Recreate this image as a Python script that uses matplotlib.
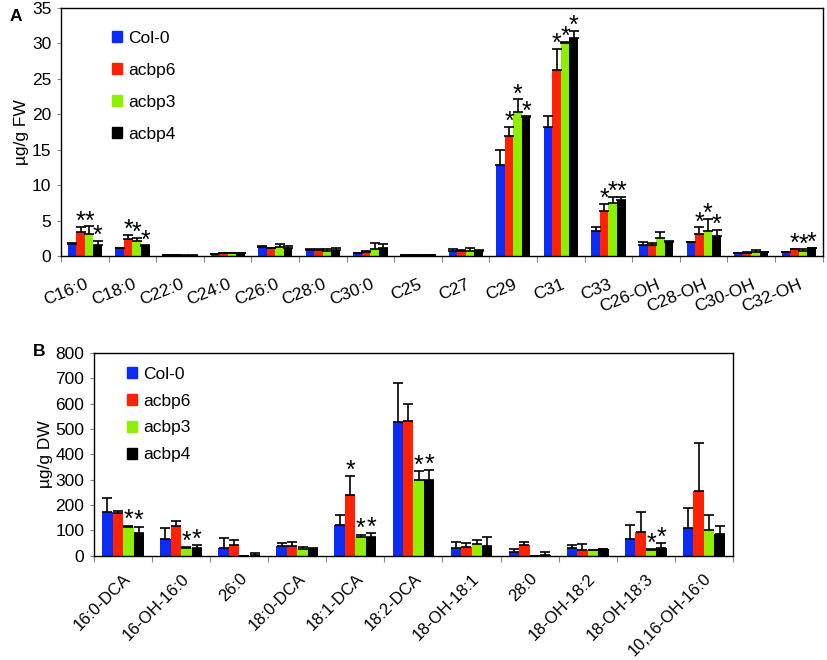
import numpy as np
import matplotlib
matplotlib.use('Agg')
import matplotlib.pyplot as plt
from matplotlib.patches import Patch

plt.rcParams['font.family'] = ['Liberation Sans', 'DejaVu Sans']

series = ['Col-0', 'acbp6', 'acbp3', 'acbp4']
colors = ['#0a2cf5', '#ff2200', '#8cf000', '#000000']

# panel A: cuticular wax
cats_a = ['C16:0', 'C18:0', 'C22:0', 'C24:0', 'C26:0', 'C28:0', 'C30:0', 'C25',
          'C27', 'C29', 'C31', 'C33', 'C26-OH', 'C28-OH', 'C30-OH', 'C32-OH']
col0_a = [1.74, 1.08, 0.1, 0.28, 1.35, 0.85, 0.42, 0.1, 0.66, 12.9, 18.25, 3.53, 1.5, 2.0, 0.38, 0.52]
acbp6_a = [3.43, 2.4, 0.1, 0.38, 1.15, 0.8, 0.56, 0.12, 0.7, 17.0, 26.25, 6.4, 1.5, 3.1, 0.5, 1.0]
acbp3_a = [3.15, 2.1, 0.08, 0.4, 1.3, 0.75, 1.05, 0.1, 0.66, 20.3, 30.1, 7.43, 2.5, 3.5, 0.6, 0.7]
acbp4_a = [1.55, 1.4, 0.08, 0.38, 1.2, 0.9, 1.15, 0.1, 0.75, 19.6, 30.8, 7.85, 1.93, 2.87, 0.56, 1.18]
col0_a_err = [0.1, 0.05, 0.02, 0.05, 0.1, 0.1, 0.08, 0.02, 0.34, 2.0, 1.45, 0.6, 0.5, 0.05, 0.07, 0.03]
acbp6_a_err = [0.67, 0.55, 0.02, 0.05, 0.05, 0.25, 0.09, 0.02, 0.1, 1.2, 2.95, 1.0, 0.4, 0.95, 0.1, 0.05]
acbp3_a_err = [1.05, 0.5, 0.02, 0.05, 0.45, 0.25, 0.85, 0.02, 0.44, 1.8, 0.1, 0.97, 0.9, 1.7, 0.25, 0.25]
acbp4_a_err = [0.55, 0.1, 0.02, 0.05, 0.2, 0.3, 0.6, 0.02, 0.05, 0.1, 1.0, 0.45, 0.22, 0.83, 0.04, 0.02]
stars_a = {0: [1, 2, 3], 1: [1, 2, 3], 9: [1, 2, 3], 10: [1, 2, 3], 11: [1, 2, 3],
           13: [1, 2, 3], 15: [1, 2, 3]}

# panel B: cutin monomers
cats_b = ['16:0-DCA', '16-OH-16:0', '26:0', '18:0-DCA', '18:1-DCA', '18:2-DCA',
          '18-OH-18:1', '28:0', '18-OH-18:2', '18-OH-18:3', '10,16-OH-16:0']
col0_b = [171, 67, 30, 39, 121, 527, 30, 14, 32, 67, 108]
acbp6_b = [167, 116, 43, 37, 239, 532, 33, 42, 24, 93, 255]
acbp3_b = [113, 29, 0, 28, 72, 298, 46, 0, 22, 22, 101]
acbp4_b = [88, 32, 2, 26, 75, 300, 38, 3, 25, 29, 87]
col0_b_err = [58, 41, 38, 12, 39, 153, 25, 12, 11, 54, 81]
acbp6_b_err = [8, 21, 19, 18, 74, 68, 17, 14, 23, 80, 189]
acbp3_b_err = [5, 4, 0, 5, 11, 36, 16, 0, 1, 4, 58]
acbp4_b_err = [26, 10, 7, 3, 14, 38, 36, 11, 1, 20, 31]
stars_b = {0: [2, 3], 1: [2, 3], 4: [1, 2, 3], 5: [2, 3], 9: [2, 3]}


def draw_panel(ax, cats, vals, errs, stars, ymax, ystep, star_pad):
    x = np.arange(len(cats))
    w = 0.18
    offs = (np.arange(4) - 1.5) * w
    for i in range(4):
        ax.bar(x + offs[i], vals[i], w, color=colors[i], linewidth=0, zorder=2)
        ax.errorbar(x + offs[i], vals[i], yerr=[np.zeros(len(cats)), errs[i]],
                    fmt='none', ecolor='black', elinewidth=1.2, capsize=3.5,
                    capthick=1.2, zorder=3)
    for c, idx in stars.items():
        for i in idx:
            top = vals[i][c] + errs[i][c]
            ax.text(x[c] + offs[i], top + star_pad, '*', ha='center', va='bottom',
                    fontsize=18, color='black')
    ax.set_xlim(-0.5, len(cats) - 0.5)
    ax.set_ylim(0, ymax)
    ax.set_yticks(np.arange(0, ymax + 1, ystep))
    ax.set_xticks(np.arange(len(cats) + 1) - 0.5, minor=False)
    ax.set_xticklabels([])
    ax.set_xticks(x, minor=True)
    ax.tick_params(axis='x', which='major', length=4, direction='out', color='#888888')
    ax.tick_params(axis='x', which='minor', length=0)
    ax.tick_params(axis='y', length=3, color='#888888', labelsize=12.5, pad=4)
    for s in ax.spines.values():
        s.set_linewidth(1.0)
    handles = [Patch(color=colors[i], label=series[i]) for i in range(4)]
    return x, handles


fig = plt.figure(figsize=(8.27, 6.6), dpi=100)

ax1 = fig.add_axes([0.0738, 0.612, 0.921, 0.376])
vals_a = [col0_a, acbp6_a, acbp3_a, acbp4_a]
errs_a = [col0_a_err, acbp6_a_err, acbp3_a_err, acbp4_a_err]
xa, handles = draw_panel(ax1, cats_a, vals_a, errs_a, stars_a, 35, 5, -1.0)
ax1.set_xticklabels(cats_a, minor=True, rotation=22, ha='right', rotation_mode='anchor',
                    fontsize=12.5)
ax1.tick_params(axis='x', which='minor', pad=15)
ax1.set_ylabel('µg/g FW', fontsize=12.5, labelpad=2)
ax1.legend(handles=handles, loc='upper left', bbox_to_anchor=(0.055, 0.942), frameon=False,
           handlelength=0.6, handleheight=0.6, handletextpad=0.35, labelspacing=0.98,
           fontsize=12.5, borderpad=0)
fig.text(0.012, 0.975, 'A', fontsize=12.5, fontweight='bold', va='center')

ax2 = fig.add_axes([0.1137, 0.158, 0.7725, 0.307])
vals_b = [col0_b, acbp6_b, acbp3_b, acbp4_b]
errs_b = [col0_b_err, acbp6_b_err, acbp3_b_err, acbp4_b_err]
xb, handles = draw_panel(ax2, cats_b, vals_b, errs_b, stars_b, 800, 100, -25)
ax2.set_xticklabels(cats_b, minor=True, rotation=45, ha='right', rotation_mode='anchor',
                    fontsize=12)
ax2.tick_params(axis='x', which='minor', pad=11)
ax2.set_ylabel('µg/g DW', fontsize=12.5, labelpad=2)
ax2.legend(handles=handles, loc='upper left', bbox_to_anchor=(0.0375, 0.975), frameon=False,
           handlelength=0.6, handleheight=0.6, handletextpad=0.35, labelspacing=0.68,
           fontsize=12.5, borderpad=0)
fig.text(0.04, 0.467, 'B', fontsize=12.5, fontweight='bold', va='center')

fig.savefig('out.png', dpi=100)
